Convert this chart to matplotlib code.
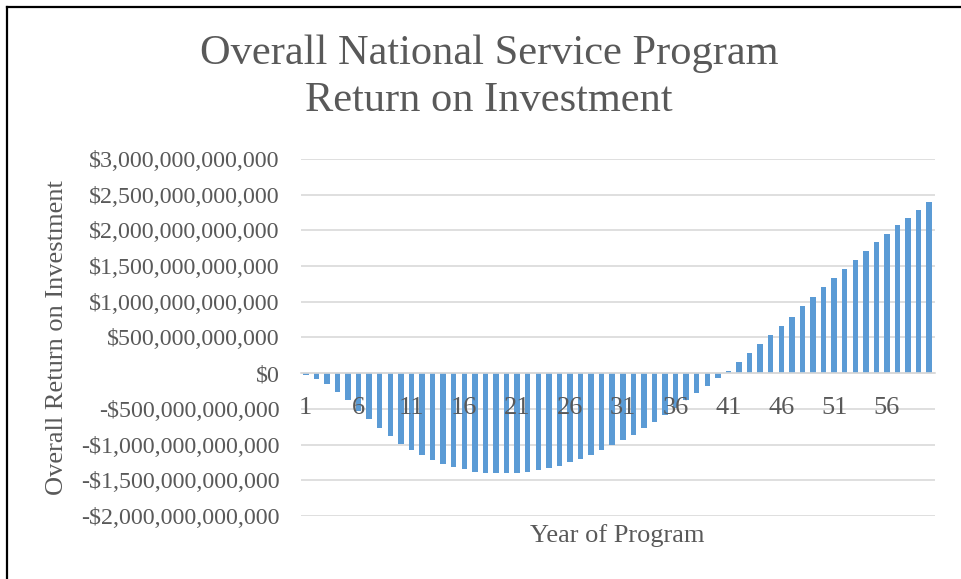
import numpy as np
import matplotlib
matplotlib.use("Agg")
import matplotlib.pyplot as plt
from matplotlib.lines import Line2D
from matplotlib.ticker import FuncFormatter, MultipleLocator

## Data (trillions of dollars, years 1..60)
years = list(range(1, 61))
roi_trillions = [
    -0.028, -0.084, -0.154, -0.268, -0.371, -0.535, -0.648, -0.773, -0.879, -0.990,
    -1.079, -1.149, -1.222, -1.276, -1.313, -1.348, -1.383, -1.397, -1.402, -1.402,
    -1.397, -1.380, -1.360, -1.330, -1.300, -1.243, -1.206, -1.146, -1.077, -1.006,
    -0.932, -0.860, -0.771, -0.678, -0.589, -0.481, -0.379, -0.280, -0.173, -0.070,
    0.037, 0.159, 0.286, 0.412, 0.538, 0.665, 0.791, 0.936, 1.063, 1.203,
    1.330, 1.456, 1.582, 1.709, 1.835, 1.943, 2.069, 2.177, 2.285, 2.392,
]
label_years = years[::5]  # 1, 6, 11, ... 56

roi = np.array(roi_trillions) * 1e12

text_color = '#595959'
grid_color = '#D9D9D9'
bar_color = '#5B9BD5'
plt.rcParams['font.family'] = ['Liberation Serif', 'DejaVu Serif']

fig = plt.figure(figsize=(9.61, 5.79), dpi=100)
W, H = 961, 579
ax = fig.add_axes([300.5 / W, 1 - 516 / H, 634 / W, 357 / H])

## y axis
ax.set_ylim(-2e12, 3e12)
ax.yaxis.set_major_locator(MultipleLocator(0.5e12))
yticks = np.arange(-2e12, 3.01e12, 0.5e12)
# gridlines behind the bars, tick labels above them
for yv in yticks:
    ax.axhline(yv, color=grid_color, linewidth=1.2, zorder=0.5)

ax.bar(years, roi, width=0.52, color=bar_color, zorder=2)
ax.set_axisbelow(False)


def money(v, pos):
    v = int(round(v))
    if v < 0:
        return '-${:,}'.format(-v)
    return '${:,}'.format(v)


ax.yaxis.set_major_formatter(FuncFormatter(money))
ax.tick_params(axis='y', length=0, pad=15, labelsize=17.3, labelcolor=text_color)

## x axis sits on zero
ax.set_xlim(0.5, 60.5)
ax.set_xticks(label_years)
ax.set_xticklabels([str(y) for y in label_years])
ax.spines['bottom'].set_position(('data', 0))
ax.spines['bottom'].set_color(grid_color)
ax.spines['bottom'].set_linewidth(1.2)
ax.tick_params(axis='x', length=0, pad=17, labelsize=19, labelcolor=text_color)
for s in ['top', 'right', 'left']:
    ax.spines[s].set_visible(False)

## labels and title
ax.text(0.5, -0.056, 'Year of Program', transform=ax.transAxes, ha='center', va='center',
        fontsize=19, color=text_color)
fig.text(57 / W, 1 - 337.5 / H, 'Overall Return on Investment', rotation=90,
         ha='center', va='center', fontsize=19, color=text_color)
fig.text(489 / W, 1 - 77 / H, 'Overall National Service Program\nReturn on Investment',
         ha='center', va='center', fontsize=30.5, color=text_color, linespacing=1.28)

## black frame around the chart (top and left edges visible)
fig.add_artist(Line2D([7 / W, 1.0], [1 - 7 / H, 1 - 7 / H], transform=fig.transFigure,
                      color='black', linewidth=1.6))
fig.add_artist(Line2D([7 / W, 7 / W], [0.0, 1 - 7 / H], transform=fig.transFigure,
                      color='black', linewidth=1.6))

fig.savefig('out.png', dpi=100)
